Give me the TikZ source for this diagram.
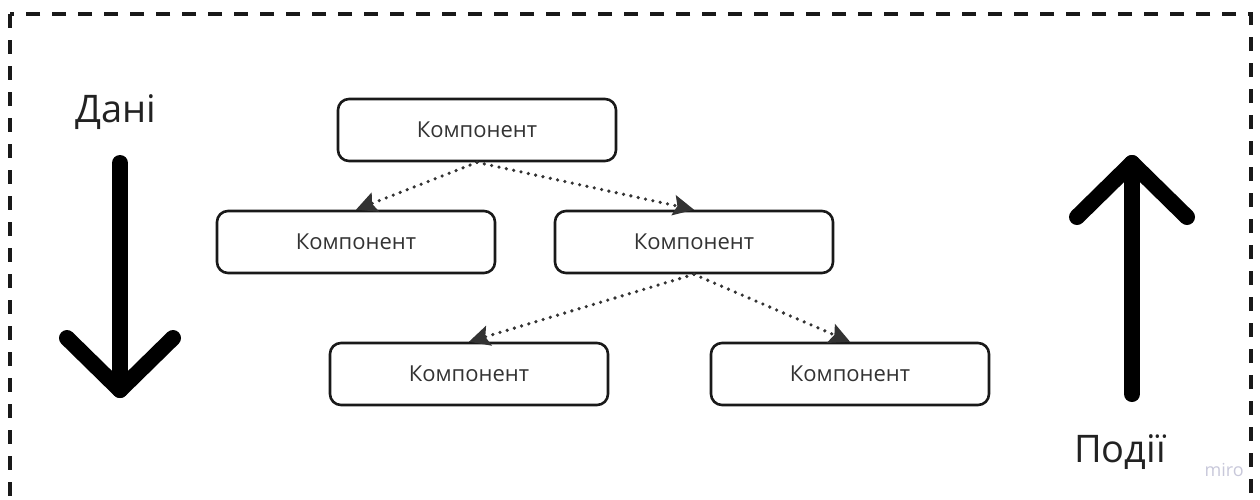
\documentclass[tikz,border=0pt]{standalone}
\usepackage{fontspec}
\setmainfont{Open Sans}
\usetikzlibrary{arrows.meta}
\definecolor{ink}{HTML}{333333}
\definecolor{label}{HTML}{222222}
\definecolor{mark}{HTML}{C8C8DA}
\begin{document}
\begin{tikzpicture}[x=1pt,y=-1pt,
  compbox/.style={draw=black!90, line width=2.6pt, rounded corners=11pt,
    minimum width=278pt, minimum height=62pt, text=ink,
    font=\fontsize{22}{26}\selectfont, inner sep=0pt},
  flow/.style={ink, line width=3.6pt, line cap=round,
    dash pattern=on 0pt off 7.5pt,
    -{Stealth[length=21pt,width=21pt,inset=4pt,fill=ink,line width=0pt]}},
  bigarrow/.style={black, line width=16pt, line cap=round, line join=round},
  biglabel/.style={text=label, font=\fontsize{38}{44}\selectfont, inner sep=0pt}]
  \useasboundingbox (0,0) rectangle (1260,499);

  % dashed frame (its lower edge runs off the page)
  \draw[black!90, line width=3.5pt, dash pattern=on 14pt off 12pt]
    (10,14) rectangle (1251,530);

  % component tree
  \node[compbox] (root) at (477,130) {Компонент};
  \node[compbox] (midL) at (356,242) {Компонент};
  \node[compbox] (midR) at (694,242) {Компонент};
  \node[compbox] (lowL) at (469,374) {Компонент};
  \node[compbox] (lowR) at (850,374) {Компонент};

  \draw[flow] (root.south) -- (midL.north);
  \draw[flow] (root.south) -- (midR.north);
  \draw[flow] (midR.south) -- (lowL.north);
  \draw[flow] (midR.south) -- (lowR.north);

  % data flows down
  \node[biglabel, anchor=base west] (data) at (75,122) {Дані};
  \draw[bigarrow] (120,163) -- (120,390);
  \draw[bigarrow] (67,338) -- (120,390) -- (173,338);

  % events bubble up
  \node[biglabel, anchor=base west] (events) at (1074,462) {Події};
  \draw[bigarrow] (1132,394) -- (1132,163);
  \draw[bigarrow] (1077,217) -- (1132,163) -- (1187,217);

  \node[text=mark, font=\fontsize{18}{21}\selectfont, inner sep=0pt,
    anchor=base east] (brand) at (1244,476) {miro};
\end{tikzpicture}
\end{document}
